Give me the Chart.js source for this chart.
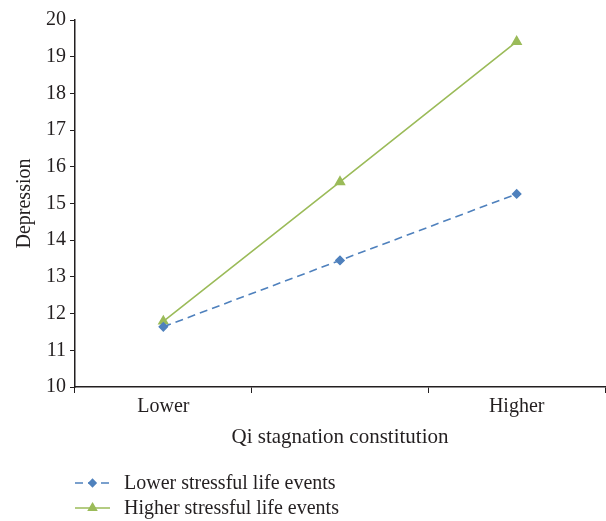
<!DOCTYPE html>
<html>
<head>
<meta charset="utf-8">
<script src="https://cdn.jsdelivr.net/npm/chart.js@4"></script>
<style>
html,body{margin:0;padding:0;background:#fff;}
#wrap{width:606px;height:521px;}
</style>
</head>
<body>
<div id="wrap"><canvas id="depressionChart"></canvas></div>
<script>
// Data
const categories = ["Lower", "", "Higher"];
const lowerStress = [11.64, 13.45, 15.26];
const higherStress = [11.79, 15.59, 19.41];
const yTicks = [10, 11, 12, 13, 14, 15, 16, 17, 18, 19, 20];

const serif = "'Liberation Serif', 'DejaVu Serif', serif";
const ink = "#231f20";
const blue = "#4F81BD";
const green = "#9BBB59";

// legend under the chart: line segment with the marker in the middle
const lineLegend = {
    id: "lineLegend",
    afterDraw(chart){
        const ctx = chart.ctx;
        const x0 = 75, x1 = 110, textX = 124;
        const rows = [483, 508];
        chart.data.datasets.forEach(function(ds, i){
            const y = rows[i];
            ctx.save();
            ctx.strokeStyle = ds.borderColor;
            ctx.lineWidth = ds.borderWidth;
            ctx.setLineDash(ds.borderDash || []);
            ctx.beginPath();
            ctx.moveTo(x0, y);
            ctx.lineTo(x1, y);
            ctx.stroke();
            ctx.setLineDash([]);
            ctx.fillStyle = ds.borderColor;
            Chart.helpers.drawPoint(ctx, {
                pointStyle: ds.pointStyle,
                radius: ds.pointRadius - 0.5,
                borderWidth: 1
            }, (x0 + x1) / 2, y);
            ctx.fillStyle = ink;
            ctx.font = "20px " + serif;
            ctx.textBaseline = "middle";
            ctx.fillText(ds.label, textX, y + 1);
            ctx.restore();
        });
    }
};

new Chart(document.getElementById("depressionChart"), {
    type: "line",
    data: {
        labels: categories,
        datasets: [{
            label: "Lower stressful life events",
            data: lowerStress,
            borderColor: blue,
            backgroundColor: blue,
            pointBackgroundColor: blue,
            pointBorderColor: blue,
            borderWidth: 1.6,
            borderDash: [8, 5],
            pointStyle: "rectRot",
            pointRadius: 4,
            tension: 0
        }, {
            label: "Higher stressful life events",
            data: higherStress,
            borderColor: green,
            backgroundColor: green,
            pointBackgroundColor: green,
            pointBorderColor: green,
            borderWidth: 1.6,
            pointStyle: "triangle",
            pointRadius: 5,
            tension: 0
        }]
    },
    options: {
        responsive: true,
        maintainAspectRatio: false,
        animation: false,
        layout: {
            autoPadding: false,
            padding: { top: 20, right: 1, bottom: 68, left: 0 }
        },
        plugins: {
            legend: { display: false },
            tooltip: { enabled: false }
        },
        scales: {
            x: {
                offset: true,
                grid: {
                    offset: true,
                    drawOnChartArea: false,
                    drawTicks: true,
                    tickLength: 6,
                    color: ink
                },
                border: { color: ink, width: 1.5 },
                ticks: {
                    color: ink,
                    font: { family: serif, size: 20 },
                    padding: 2,
                    maxRotation: 0
                },
                title: {
                    display: true,
                    text: "Qi stagnation constitution",
                    color: ink,
                    font: { family: serif, size: 21 },
                    padding: { top: 4, bottom: 3 }
                },
                afterFit(scale){
                    scale.height = 66;
                    scale.paddingLeft = 0;
                    scale.paddingRight = 0;
                }
            },
            y: {
                min: 10,
                max: 20,
                afterBuildTicks(scale){
                    scale.ticks = yTicks.map(function(v){ return { value: v }; });
                },
                grid: {
                    drawOnChartArea: false,
                    drawTicks: true,
                    tickLength: 5,
                    color: ink
                },
                border: { color: ink, width: 1.5 },
                ticks: {
                    color: ink,
                    font: { family: serif, size: 20 },
                    padding: 4
                },
                title: {
                    display: true,
                    text: "Depression",
                    color: ink,
                    font: { family: serif, size: 20 },
                    padding: { top: 13, bottom: 6 }
                },
                afterFit(scale){
                    scale.width = 75;
                    scale.paddingTop = 0;
                    scale.paddingBottom = 0;
                }
            }
        }
    },
    plugins: [lineLegend]
});
</script>
</body>
</html>
